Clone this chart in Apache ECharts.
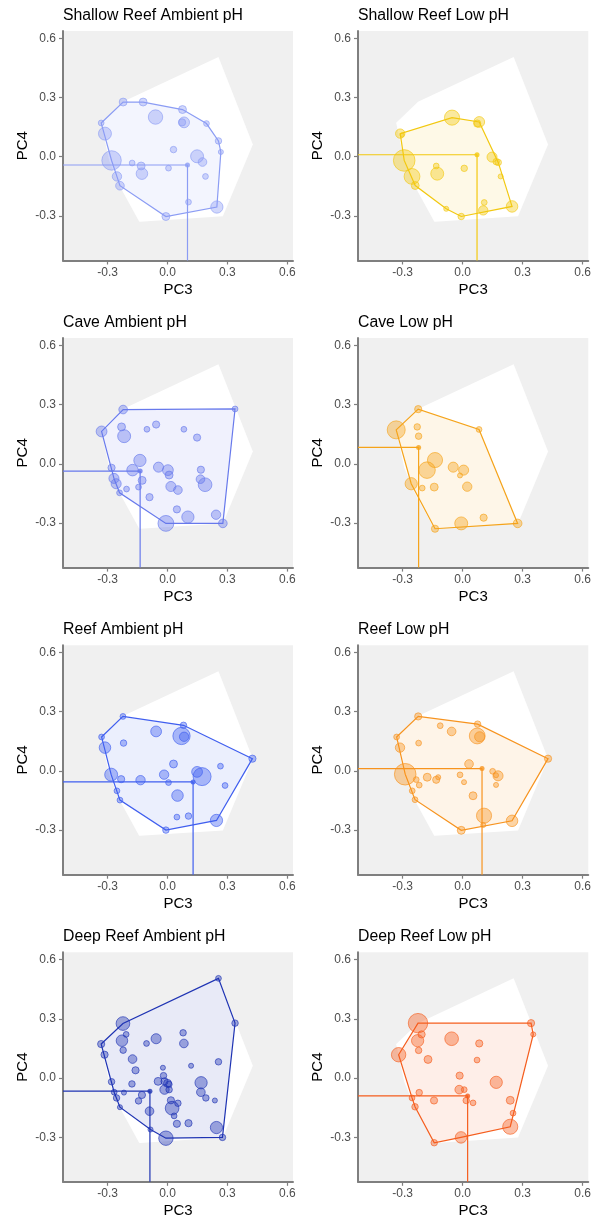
<!DOCTYPE html>
<html><head><meta charset="utf-8">
<script src="https://cdn.jsdelivr.net/npm/echarts@6/dist/echarts.min.js"></script>
<style>html,body{margin:0;padding:0;background:#fff}#c{width:594px;height:1224px}</style>
</head><body><div id="c"></div>
<script>
// ---- data ----
const titles = ['Shallow Reef Ambient pH','Shallow Reef Low pH','Cave Ambient pH','Cave Low pH','Reef Ambient pH','Reef Low pH','Deep Reef Ambient pH','Deep Reef Low pH'];
const tickVals = [-0.3, 0.0, 0.3, 0.6];

const sraX = [-0.222,-0.122,0.075,-0.060,0.083,0.073,0.195,-0.332,-0.313,0.255,0.267,0.030,0.148,0.175,-0.280,-0.177,-0.132,-0.128,0.005,-0.253,-0.238,0.190,0.105,0.247,-0.008];
const sraY = [0.277,0.277,0.239,0.201,0.174,0.174,0.168,0.171,0.117,0.080,0.024,0.036,0.002,-0.027,-0.019,-0.032,-0.047,-0.086,-0.058,-0.100,-0.147,-0.100,-0.230,-0.255,-0.303];
const sraS = [11,11,11,20,15,10,8,8,18,9,7,9,18,12,27,8,11,16,8,13,12,8,8,17,11];

const srlX = [-0.053,0.083,0.073,-0.312,-0.303,0.147,0.168,0.178,-0.292,-0.132,-0.127,0.008,-0.253,-0.237,0.190,0.108,-0.082,0.103,0.247,-0.007];
const srlY = [0.198,0.176,0.168,0.117,0.110,-0.002,-0.025,-0.029,-0.019,-0.047,-0.086,-0.059,-0.100,-0.146,-0.100,-0.232,-0.264,-0.272,-0.252,-0.303];
const srlS = [21,15,10,13,6,14,9,9,30,8,18,9,22,11,7,8,7,13,16,9];

const caX = [-0.222,0.338,-0.330,-0.230,-0.217,-0.103,-0.057,0.082,0.148,-0.138,-0.280,-0.175,-0.045,0.002,0.008,-0.268,-0.257,-0.127,-0.145,-0.205,-0.240,-0.090,0.017,0.052,0.167,0.165,0.188,0.047,0.102,-0.008,0.243,0.277];
const caY = [0.275,0.278,0.164,0.187,0.140,0.175,0.199,0.175,0.133,0.017,-0.020,-0.032,-0.017,-0.032,-0.057,-0.074,-0.101,-0.084,-0.118,-0.128,-0.147,-0.169,-0.115,-0.133,-0.030,-0.078,-0.106,-0.231,-0.270,-0.302,-0.258,-0.302];
const caS = [12,8,15,11,18,8,10,8,10,17,10,16,14,15,11,14,14,11,8,8,8,10,14,12,10,12,19,10,17,22,13,12];

const clX = [-0.222,-0.332,-0.227,-0.220,0.082,-0.138,-0.178,-0.047,0.005,-0.013,-0.257,-0.202,-0.142,0.023,0.105,-0.007,-0.138,0.275];
const clY = [0.277,0.172,0.187,0.140,0.174,0.019,-0.032,-0.017,-0.032,-0.059,-0.101,-0.123,-0.118,-0.116,-0.273,-0.302,-0.329,-0.302];
const clS = [10,25,9,9,8,21,23,14,14,7,17,8,11,13,10,18,10,12];

const raX = [-0.223,0.080,-0.057,0.070,0.083,-0.330,-0.220,-0.313,0.425,0.030,0.265,-0.282,-0.232,-0.135,-0.017,0.005,0.148,0.173,0.288,-0.253,-0.238,0.050,0.047,0.105,0.245,-0.008];
const raY = [0.276,0.231,0.200,0.177,0.173,0.172,0.141,0.118,0.062,0.035,0.024,-0.019,-0.042,-0.047,-0.019,-0.059,-0.005,-0.029,-0.074,-0.101,-0.148,-0.125,-0.234,-0.229,-0.251,-0.300];
const raS = [8,9,15,24,13,8,9,16,10,11,8,18,10,13,13,8,15,25,8,8,8,16,8,9,17,9];

const rlX = [-0.222,0.075,-0.112,-0.055,0.073,0.085,-0.330,-0.220,-0.313,0.427,0.032,-0.287,-0.177,-0.122,-0.132,-0.232,-0.217,-0.013,0.007,0.150,0.177,0.167,0.167,-0.252,-0.238,0.052,0.107,0.103,0.247,-0.007];
const rlY = [0.276,0.237,0.229,0.200,0.177,0.173,0.172,0.141,0.118,0.062,0.035,-0.017,-0.032,-0.032,-0.045,-0.044,-0.072,-0.020,-0.057,-0.002,-0.025,-0.022,-0.071,-0.101,-0.146,-0.126,-0.227,-0.274,-0.253,-0.301];
const rlS = [10,9,8,12,22,14,8,8,13,10,12,30,11,7,10,8,8,8,7,8,14,7,7,8,8,11,21,7,16,11];

const draX = [0.255,0.338,-0.223,-0.207,-0.228,-0.222,-0.332,-0.315,-0.105,-0.057,0.078,0.082,-0.175,-0.160,-0.023,0.118,0.255,-0.020,-0.280,-0.178,-0.047,-0.015,0.000,0.007,-0.015,0.008,0.168,0.167,0.192,0.237,-0.267,-0.218,-0.255,-0.238,-0.128,-0.145,-0.090,0.017,0.052,0.023,0.033,0.047,0.105,0.245,-0.085,-0.008,0.275];
const draY = [0.505,0.278,0.276,0.221,0.189,0.141,0.172,0.118,0.175,0.199,0.229,0.175,0.096,0.039,0.052,0.062,0.082,0.012,-0.019,-0.030,-0.017,-0.017,-0.027,-0.032,-0.059,-0.059,-0.024,-0.072,-0.101,-0.114,-0.072,-0.074,-0.101,-0.148,-0.086,-0.116,-0.168,-0.113,-0.128,-0.153,-0.192,-0.232,-0.229,-0.251,-0.261,-0.305,-0.301];
const draS = [8,9,19,8,16,9,10,10,8,14,9,12,12,10,7,7,9,9,9,9,11,10,11,9,13,9,17,12,9,7,8,7,9,7,10,9,12,10,9,19,8,10,10,17,7,20,9];

const drlX = [-0.223,0.342,0.353,-0.205,-0.225,-0.220,-0.055,0.083,-0.320,-0.173,0.072,-0.015,0.168,-0.017,0.008,-0.217,-0.253,-0.143,0.018,0.052,0.238,0.252,-0.238,0.238,-0.008,-0.142];
const drlY = [0.278,0.278,0.221,0.221,0.189,0.140,0.199,0.175,0.118,0.094,0.091,0.012,-0.022,-0.059,-0.059,-0.074,-0.101,-0.114,-0.114,-0.126,-0.113,-0.178,-0.146,-0.247,-0.301,-0.328];
const drlS = [27,10,7,10,17,9,19,10,20,11,8,10,17,12,8,9,8,10,9,8,11,8,9,21,16,9];

const meanX = [0.100, 0.072, -0.137, -0.220, 0.128, 0.097, -0.088, 0.025];
const meanY = [-0.042, 0.010, -0.037, 0.083, -0.056, 0.012, -0.067, -0.091];

const colors = ['#8B9CF4','#F2C80F','#6779EC','#F5A31A','#3F5EEF','#F7931E','#1E33B3','#F55D1D'];

const X = [sraX, srlX, caX, clX, raX, rlX, draX, drlX];
const Y = [sraY, srlY, caY, clY, raY, rlY, draY, drlY];
const S = [sraS, srlS, caS, clS, raS, rlS, draS, drlS];

const xMin = -0.523, xMax = 0.628, yMin = -0.526, yMax = 0.637;

// ---- helpers ----
function hull(pts){
  const p = pts.map(a=>[a[0],a[1]]).sort((a,b)=>a[0]-b[0]||a[1]-b[1]);
  const cross=(o,a,b)=>(a[0]-o[0])*(b[1]-o[1])-(a[1]-o[1])*(b[0]-o[0]);
  const lo=[];for(const q of p){while(lo.length>=2&&cross(lo[lo.length-2],lo[lo.length-1],q)<=0)lo.pop();lo.push(q);}
  const up=[];for(let i=p.length-1;i>=0;i--){const q=p[i];while(up.length>=2&&cross(up[up.length-2],up[up.length-1],q)<=0)up.pop();up.push(q);}
  lo.pop();up.pop();return lo.concat(up);
}
function rgba(hex,a){const n=parseInt(hex.slice(1),16);return `rgba(${n>>16&255},${n>>8&255},${n&255},${a})`;}

const panelPts = X.map((xs,i)=>xs.map((x,j)=>[x, Y[i][j], S[i][j]]));
const allHull = hull([].concat(...panelPts));

const FONT = 'Liberation Sans, Arial, sans-serif';
const grids=[], xAxes=[], yAxes=[], series=[], titleOpt=[];
for(let i=0;i<8;i++){
  const col=i%2, row=Math.floor(i/2);
  const left = col ? 358 : 63, width = col ? 231 : 230;
  const top = 31 + row*307.1;
  grids.push({left, top, width, height:229.5, show:true, backgroundColor:'#F0F0F0', borderWidth:0});
  titleOpt.push({text:titles[i], left:left, top:7.5+row*307.1, padding:0,
    textStyle:{fontFamily:FONT, fontSize:15.8, fontWeight:'normal', color:'#000'}});
  const axCommon = {
    gridIndex:i, type:'value', splitLine:{show:false},
    axisLine:{show:true, onZero:false, lineStyle:{color:'#7F7F7F', width:2}},
    axisTick:{show:true, length:4, customValues:tickVals, lineStyle:{color:'#7F7F7F', width:1.2}},
    axisLabel:{customValues:tickVals, formatter:v=>v.toFixed(1), fontFamily:FONT, fontSize:12, color:'#4D4D4D'},
    nameLocation:'middle', nameTextStyle:{fontFamily:FONT, fontSize:15, color:'#000'}
  };
  xAxes.push(Object.assign({}, axCommon, {min:xMin, max:xMax, name:'PC3', nameGap:22,
    axisLabel:Object.assign({}, axCommon.axisLabel, {margin:6})}));
  yAxes.push(Object.assign({}, axCommon, {min:yMin, max:yMax, name:'PC4', nameGap:33,
    axisLabel:Object.assign({}, axCommon.axisLabel, {margin:7})}));
  const c = colors[i];
  const H = hull(panelPts[i]);
  // overall hull (white)
  series.push({type:'custom', xAxisIndex:i, yAxisIndex:i, data:[[0,0]], silent:true, z:1, clip:false,
    renderItem:(p,api)=>({type:'polygon', shape:{points:allHull.map(v=>api.coord([v[0],v[1]]))}, style:{fill:'#FFFFFF', stroke:null}})});
  // group hull
  series.push({type:'custom', xAxisIndex:i, yAxisIndex:i, data:[[0,0]], silent:true, z:2, clip:false,
    renderItem:(p,api)=>({type:'polygon', shape:{points:H.map(v=>api.coord([v[0],v[1]]))}, style:{fill:rgba(c,0.1), stroke:c, lineWidth:1.2}})});
  // crosshair at centroid
  const mx=meanX[i], my=meanY[i];
  series.push({type:'custom', xAxisIndex:i, yAxisIndex:i, data:[[mx,my]], silent:true, z:3, clip:false,
    renderItem:(p,api)=>{
      const m=api.coord([mx,my]), l=api.coord([xMin,my]), b=api.coord([mx,yMin]);
      return {type:'group', children:[
        {type:'line', shape:{x1:l[0],y1:l[1],x2:m[0],y2:m[1]}, style:{stroke:c, lineWidth:1.2}},
        {type:'line', shape:{x1:m[0],y1:m[1],x2:b[0],y2:b[1]}, style:{stroke:c, lineWidth:1.2}}
      ]};
    }});
  // points
  series.push({type:'scatter', xAxisIndex:i, yAxisIndex:i, z:4, silent:true,
    data:panelPts[i], symbolSize:v=>v[2]*0.72,
    itemStyle:{color:rgba(c,0.5), borderColor:c, borderWidth:0.8}});
  // mean point
  series.push({type:'scatter', xAxisIndex:i, yAxisIndex:i, z:5, silent:true,
    data:[[mx,my]], symbolSize:5, itemStyle:{color:c}});
}

const chart = echarts.init(document.getElementById('c'), null, {renderer:'canvas'});
chart.setOption({animation:false, backgroundColor:'#fff', title:titleOpt, grid:grids, xAxis:xAxes, yAxis:yAxes, series});
</script>
</body></html>
